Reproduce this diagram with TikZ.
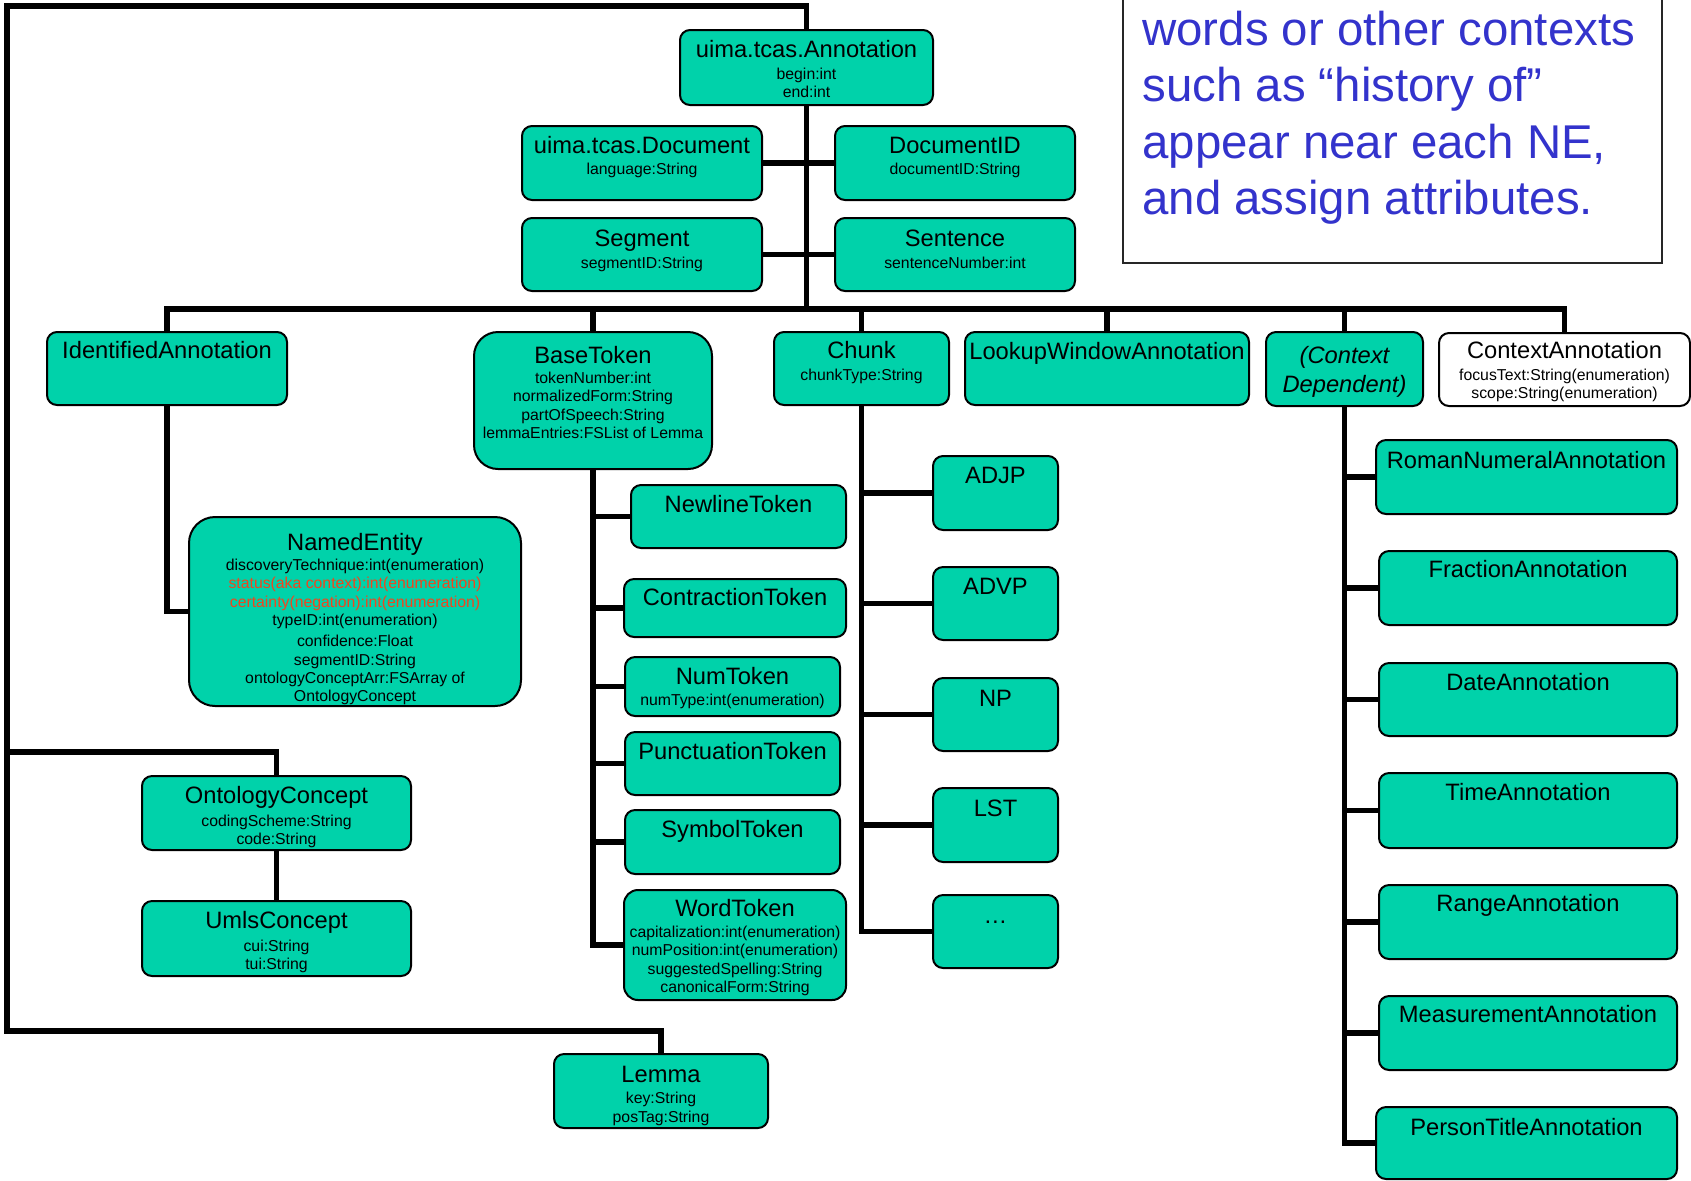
\documentclass[tikz,border=0pt]{standalone}
\usepackage{fontspec}
\setmainfont{Liberation Sans}
\usetikzlibrary{calc}

\definecolor{boxfill}{RGB}{0,210,170}
\definecolor{noteblue}{RGB}{51,51,204}
\definecolor{attrred}{RGB}{240,70,30}

\newcommand\titlefont{\fontsize{11.85pt}{14.5pt}\selectfont}
\newcommand\attrfont{\fontsize{7.9pt}{9.2pt}\selectfont}
\newcommand\notefont{\fontsize{23.7pt}{28.2pt}\selectfont}
% class name line, with a fixed strut so every title sits at the same depth
\newcommand\ttl[1]{{\titlefont\rule{0pt}{9pt}#1}}

\tikzset{
  umlbox/.style={draw=black, line width=1pt, fill=boxfill, rounded corners=5pt,
                 inner sep=0pt, outer sep=0pt},
  umltext/.style={anchor=north, align=center, inner sep=0pt, font=\attrfont},
  link/.style={line width=2.9pt, draw=black},
}

% \classbox[style]{name}{x1}{y1}{x2}{y2}: an empty class box spanning the given corners
\newcommand\classbox[6][]{%
  \node[umlbox,#1,minimum width={(#5-#3)*0.5pt},minimum height={(#6-#4)*0.5pt}]
    (#2) at ({(#3+#5)/2},{(#4+#6)/2}) {};}
% \classtext{name}{drop}{text}: the box's text, hung from its top edge
\newcommand\classtext[3]{%
  \node[umltext] (#1-t) at ([yshift={-(#2)*0.5pt}]#1.north) {#3};}

\begin{document}
\begin{tikzpicture}[x=0.5pt,y=-0.5pt]
\useasboundingbox (0,0) rectangle (1691,1180);
\clip (0,0) rectangle (1691,1180);

% ---------- note box, top right ----------
\node[draw=black!85, line width=0.8pt, fill=white, inner sep=0pt,
      minimum width=269.5pt, minimum height=141.5pt] (note) at (1392.5,121.5) {};
\node[anchor=north west, align=left, inner sep=0pt, font=\notefont, text=noteblue]
  (note-t) at (1142,9)
  {\rule{0pt}{18pt}words or other contexts\\ such as “history of”\\ appear near each NE,\\ and assign attributes.};

% ---------- top of the hierarchy ----------
\classbox{ann}{680}{30}{933}{105}
\classtext{ann}{9}{\ttl{uima.tcas.Annotation}\\[1.8pt] begin:int\\ end:int}

\classbox{doc}{522}{126}{762}{200}
\classtext{doc}{9}{\ttl{uima.tcas.Document}\\[1.2pt] language:String}
\classbox{docid}{835}{126}{1075}{200}
\classtext{docid}{9}{\ttl{DocumentID}\\[1.2pt] documentID:String}
\classbox{seg}{522}{218}{762}{291}
\classtext{seg}{10}{\ttl{Segment}\\[1.8pt] segmentID:String}
\classbox{sent}{835}{218}{1075}{291}
\classtext{sent}{10}{\ttl{Sentence}\\[1.8pt] sentenceNumber:int}

% ---------- second row ----------
\classbox{idann}{47}{332}{287}{405}
\classtext{idann}{8}{\ttl{IdentifiedAnnotation}}
\classbox[rounded corners=12pt]{base}{474}{332}{712}{469}
\classtext{base}{13}{\ttl{BaseToken}\\[0.8pt] tokenNumber:int\\ normalizedForm:String\\ partOfSpeech:String\\ lemmaEntries:FSList of Lemma}
\classbox{chunk}{774}{332}{949}{405}
\classtext{chunk}{8}{\ttl{Chunk}\\[1.8pt] chunkType:String}
\classbox{look}{965}{332}{1249}{405}
\classtext{look}{9}{\ttl{LookupWindowAnnotation}}
\classbox{ctxdep}{1266}{332}{1423}{406}
\node[umltext, font=\titlefont\itshape] (ctxdep-t) at ([yshift=-6.5pt]ctxdep.north)
  {\rule{0pt}{9pt}(Context\\ Dependent)};
\classbox[fill=white]{ctxann}{1439}{333}{1690}{406}
\classtext{ctxann}{7}{\ttl{ContextAnnotation}\\[1.8pt] focusText:String(enumeration)\\ scope:String(enumeration)}

% ---------- left column ----------
\classbox[rounded corners=13pt]{ne}{189}{517}{521}{706}
\classtext{ne}{15}{\ttl{NamedEntity}\\[0.8pt] discoveryTechnique:int(enumeration)\\
  \textcolor{attrred}{status(aka context):int(enumeration)}\\
  \textcolor{attrred}{certainty(negation):int(enumeration)}\\
  typeID:int(enumeration)\\[1.3pt] confidence:Float\\ segmentID:String\\
  ontologyConceptArr:FSArray of\\ OntologyConcept}
\classbox{onto}{142}{776}{411}{850}
\classtext{onto}{9}{\ttl{OntologyConcept}\\[2.3pt] codingScheme:String\\ code:String}
\classbox{umls}{142}{901}{411}{976}
\classtext{umls}{9}{\ttl{UmlsConcept}\\[2.3pt] cui:String\\ tui:String}
\classbox{lemma}{554}{1054}{768}{1128}
\classtext{lemma}{10}{\ttl{Lemma}\\[1.5pt] key:String\\ posTag:String}

% ---------- token subtypes ----------
\classbox{newline}{631}{485}{846}{548}
\classtext{newline}{9}{\ttl{NewlineToken}}
\classbox{contr}{624}{579}{846}{637}
\classtext{contr}{8}{\ttl{ContractionToken}}
\classbox{num}{625}{657}{840}{716}
\classtext{num}{9}{\ttl{NumToken}\\[1.5pt] numType:int(enumeration)}
\classbox{punct}{625}{732}{840}{795}
\classtext{punct}{9}{\ttl{PunctuationToken}}
\classbox{symb}{625}{810}{840}{874}
\classtext{symb}{9}{\ttl{SymbolToken}}
\classbox[rounded corners=7pt]{word}{624}{890}{846}{1000}
\classtext{word}{8}{\ttl{WordToken}\\[1.2pt] capitalization:int(enumeration)\\ numPosition:int(enumeration)\\ suggestedSpelling:String\\ canonicalForm:String}

% ---------- chunk subtypes ----------
\classbox{adjp}{933}{456}{1058}{530}
\classtext{adjp}{9}{\ttl{ADJP}}
\classbox{advp}{933}{567}{1058}{640}
\classtext{advp}{9}{\ttl{ADVP}}
\classbox{np}{933}{678}{1058}{751}
\classtext{np}{10}{\ttl{NP}}
\classbox{lst}{933}{788}{1058}{862}
\classtext{lst}{10}{\ttl{LST}}
\classbox{more}{933}{895}{1058}{968}
\classtext{more}{10}{\ttl{…}}

% ---------- context dependent annotations ----------
\classbox{roman}{1376}{440}{1677}{514}
\classtext{roman}{10}{\ttl{RomanNumeralAnnotation}}
\classbox{frac}{1379}{551}{1677}{625}
\classtext{frac}{8}{\ttl{FractionAnnotation}}
\classbox{date}{1379}{663}{1677}{736}
\classtext{date}{9}{\ttl{DateAnnotation}}
\classbox{time}{1379}{773}{1677}{848}
\classtext{time}{9}{\ttl{TimeAnnotation}}
\classbox{range}{1379}{885}{1677}{959}
\classtext{range}{8}{\ttl{RangeAnnotation}}
\classbox{meas}{1379}{996}{1677}{1070}
\classtext{meas}{8}{\ttl{MeasurementAnnotation}}
\classbox{person}{1376}{1107}{1677}{1179}
\classtext{person}{10}{\ttl{PersonTitleAnnotation}}

% ---------- connectors ----------
\coordinate (topy) at (0,6);
\coordinate (lefttop) at (7,6);
\coordinate (leftbot) at (7,1031);
\coordinate (ontoy) at (7,752);
\coordinate (bar) at (0,309);

\draw[link] (ann.north) -- (ann.north |- topy) -- (lefttop) -- (leftbot)
            -- (lemma.north |- leftbot) -- (lemma.north);
\draw[link] (ontoy) -- (onto.north |- ontoy) -- (onto.north);
\draw[link] (onto.south) -- (umls.north);
\draw[link] (ann.south) -- (ann.south |- bar);
\draw[link] (doc.east) -- (docid.west);
\draw[link] (seg.east) -- (sent.west);
\draw[link] (idann.north) -- (idann.north |- bar) -- (ctxann.north |- bar) -- (ctxann.north);
\foreach \n in {base,chunk,look,ctxdep} \draw[link] (\n.north) -- (\n.north |- bar);
\draw[link] (idann.south) |- (ne.west);
\foreach \n in {newline,contr,num,punct,symb,word} \draw[link] (base.south) |- (\n.west);
\foreach \n in {adjp,advp,np,lst,more} \draw[link] (chunk.south) |- (\n.west);
\foreach \n in {roman,frac,date,time,range,meas,person} \draw[link] (ctxdep.south) |- (\n.west);
\end{tikzpicture}
\end{document}
